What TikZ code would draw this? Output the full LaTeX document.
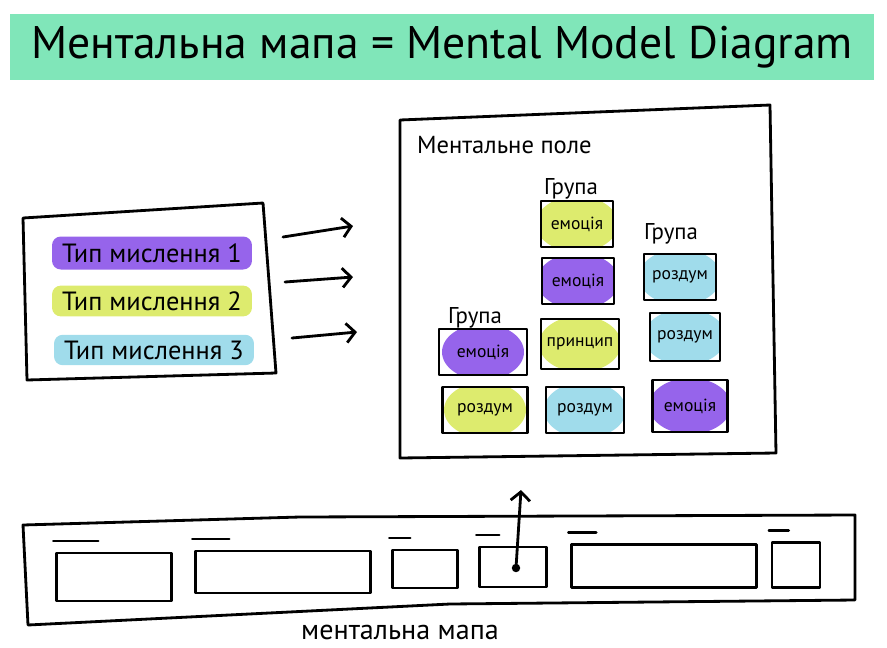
\documentclass[tikz,border=0pt]{standalone}
\usepackage{fontspec}
\setmainfont{PT Sans}
\usetikzlibrary{shapes,calc,arrows.meta}

\definecolor{mmgreen}{HTML}{80E6B9}
\definecolor{mmpurple}{HTML}{9664EB}
\definecolor{mmyellow}{HTML}{DDEB6E}
\definecolor{mmcyan}{HTML}{A0DCEB}

\begin{document}
\begin{tikzpicture}[x=0.02cm,y=-0.02cm,line cap=round,line join=round,
  >={Straight Barb[length=5pt,width=11pt]},
  frame/.style={line width=1.6pt},
  band/.style={fill=#1,rounded corners=5pt,minimum width=4cm,minimum height=0.6cm,font=\fontsize{15}{15}\selectfont},
  card/.style={draw,line width=1.4pt,minimum width=1.5cm,minimum height=0.92cm,inner sep=1pt,
    font=\fontsize{10}{10}\selectfont,
    path picture={\fill[#1] (path picture bounding box.center) ellipse [x radius=0.82cm,y radius=0.56cm];}},
  grp/.style={font=\fontsize{13}{13}\selectfont},
  slot/.style={draw,line width=1.4pt,inner sep=0pt}]
\useasboundingbox (0,0) rectangle (887,647);

\node (T) at (442,47) [fill=mmgreen,minimum width=17.3cm,minimum height=1.32cm,
  font=\fontsize{26}{26}\selectfont] {Ментальна мапа = Mental Model Diagram};

\draw[frame] (23,218) -- (263,203) -- (276,373) -- (27,380) -- cycle;
\node (L1) at (152,253) [band=mmpurple,minimum height=0.66cm] {Тип мислення 1};
\node (L2) at (152,301) [band=mmyellow,minimum height=0.56cm] {Тип мислення 2};
\node (L3) at (154,350) [band=mmcyan,minimum height=0.46cm] {Тип мислення 3};

\coordinate (A1) at (283,237); \coordinate (B1) at (353,226);
\coordinate (A2) at (285,282); \coordinate (B2) at (353,277);
\coordinate (A3) at (292,338); \coordinate (B3) at (357,332);
\path[->,frame] (A1) edge (B1) (A2) edge (B2) (A3) edge (B3);

\draw[frame] (400,120) -- (770,105) -- (776,453) -- (400,458) -- cycle;
\node (F) at (411,145) [anchor=west,font=\fontsize{14}{14}\selectfont] {Ментальне поле};

\node (G1) at (475,318) [grp] {Група};
\node (G2) at (571,189) [grp] {Група};
\node (G3) at (671,234) [grp] {Група};

\node (C1) at (483,352) [card=mmpurple,minimum width=1.76cm] {емоція};
\node (C2) at (485,410) [card=mmyellow,minimum width=1.7cm] {роздум};
\node (C3) at (577,224) [card=mmyellow,minimum width=1.44cm] {емоція};
\node (C4) at (578,281) [card=mmpurple,minimum width=1.44cm] {емоція};
\node (C5) at (580,344) [card=mmyellow,minimum width=1.56cm,minimum height=1cm] {принцип};
\node (C6) at (585,410) [card=mmcyan,minimum width=1.56cm] {роздум};
\node (C7) at (680,277) [card=mmcyan,minimum width=1.44cm] {роздум};
\node (C8) at (685,337) [card=mmcyan,minimum width=1.4cm,minimum height=0.96cm] {роздум};
\node (C9) at (690,406) [card=mmpurple,minimum height=1.04cm] {емоція};

\draw[frame] (23,525) -- (300,517) -- (855,515) -- (855,600) -- (450,604) -- (28,625) -- cycle;
\node (S1) at (114,577) [slot,minimum width=2.3cm,minimum height=0.96cm] {};
\node (S2) at (283,572) [slot,minimum width=3.5cm,minimum height=0.84cm] {};
\node (S3) at (425,569) [slot,minimum width=1.3cm,minimum height=0.76cm] {};
\node (S4) at (513,567) [slot,minimum width=1.34cm,minimum height=0.8cm] {};
\node (S5) at (664,566) [slot,minimum width=3.7cm,minimum height=0.86cm] {};
\node (S6) at (796,565) [slot,minimum width=0.96cm,minimum height=0.9cm] {};
\foreach \s/\w in {S1/45,S2/37,S3/21,S4/23,S5/28,S6/20}
  \draw[line width=1.4pt] ($(\s.north west)+(-2,-11)$) -- ++(\w,0);

\coordinate (D) at (516,568);
\coordinate (U) at (521,490);
\fill (D) circle (2.4pt);
\path[->,frame] (D) edge (U);

\node (M) at (400,632) [font=\fontsize{16}{16}\selectfont] {ментальна мапа};
\end{tikzpicture}
\end{document}
